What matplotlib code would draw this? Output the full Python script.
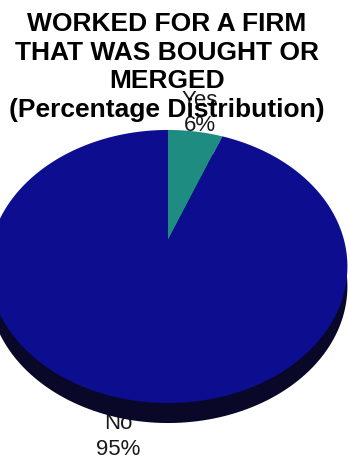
import numpy as np
import matplotlib
matplotlib.use("Agg")
import matplotlib.pyplot as plt
import matplotlib.patches as mpatches
import matplotlib.transforms as mtransforms
from matplotlib.path import Path

# answers and their shares
answers = ["Yes", "No"]
shares = [6, 95]
title = "WORKED FOR A FIRM\nTHAT WAS BOUGHT OR\nMERGED\n(Percentage Distribution)"

W, H = 349, 457


class TiltedDisc(mtransforms.Transform):
    """Maps the unit pie disc onto a plane tipped away from the viewer."""
    input_dims = output_dims = 2
    is_separable = False
    has_inverse = False

    def __init__(self, cx, cy, a, b, k, drop=0.0):
        super().__init__()
        self.cx, self.cy, self.a, self.b, self.k, self.drop = cx, cy, a, b, k, drop

    def transform_non_affine(self, xy):
        xy = np.atleast_2d(np.asarray(xy, float))
        u, v = xy[:, 0], xy[:, 1]
        w = 1 + self.k * v
        return np.column_stack([self.cx + self.a * u / w,
                                self.cy - self.b * v / w + self.drop])

    def transform_path_non_affine(self, path):
        pts = []
        for seg, code in path.iter_bezier():
            if code == Path.MOVETO:
                pts.append(seg.control_points)
            else:
                pts.append(seg(np.linspace(0, 1, 30))[1:])
        verts = self.transform_non_affine(np.concatenate(pts))
        return Path(np.vstack([verts, verts[:1]]), closed=True)


fig = plt.figure(figsize=(W / 100, H / 100), dpi=100)
ax = fig.add_axes([0, 0, 1, 1])

face = TiltedDisc(168, 240, 176, 131.4, 0.194)
side = TiltedDisc(168, 240, 176, 131.4, 0.194, drop=20)

wedges, texts = ax.pie(shares, labels=[f"{a}\n{s}%" for a, s in zip(answers, shares)],
                       colors=["#1e8c80", "#0d0d90"], startangle=90, counterclock=False,
                       wedgeprops=dict(linewidth=0))
ax.set_xlim(0, W)
ax.set_ylim(H, 0)
ax.set_aspect("auto")
ax.axis("off")

# dark rim under the top face
rim = mpatches.Circle((0, 0), 1, facecolor="#0a0829", linewidth=0, zorder=1)
ax.add_patch(rim)
rim.set_transform(side + ax.transData)

for w in wedges:
    w.set_transform(face + ax.transData)
    w.set_zorder(2)

label_dist = [1.21, 1.18]
for w, t, d in zip(wedges, texts, label_dist):
    mid = np.deg2rad((w.theta1 + w.theta2) / 2)
    t.set_position((d * np.cos(mid), d * np.sin(mid)))
    t.set_transform(face + ax.transData)
    t.set(ha="center", va="center", fontsize=16, family="Liberation Sans",
          color="#1a1a1a", linespacing=1.3)
texts[0].set_zorder(3)
texts[1].set_zorder(0.5)

fig.text(167 / W, 1 - 12 / H, title, ha="center", va="top", fontsize=19,
         fontweight="bold", family="Liberation Sans", linespacing=1.25)

fig.savefig("out.png", dpi=100)
